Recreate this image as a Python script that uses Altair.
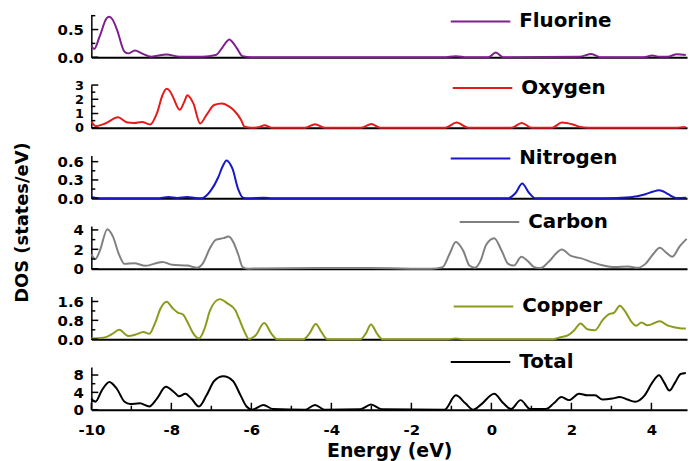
import altair as alt
import pandas as pd

FONT = "DejaVu Sans"

# ---------------- data ----------------
energy_major = [-10, -8, -6, -4, -2, 0, 2, 4]
energy_minor = [-9, -7, -5, -3, -1, 1, 3]
energy_range = [-10, 4.89]

fluorine_e = [-10, -9.93, -9.79, -9.62, -9.55, -9.47, -9.36, -9.17, -9.08, -8.91, -8.74, -8.5,
              -8.12, -7.79, -7.22, -6.89, -6.74, -6.62, -6.55, -6.48, -6.36, -6.22, -6.0,
              -1.2, -0.89, -0.6, -0.08, 0.11, 0.3, 2.2, 2.5, 2.73, 3.8, 4.02, 4.2, 4.4, 4.64, 4.86]
fluorine_v = [0.21, 0.15, 0.38, 0.70, 0.73, 0.68, 0.50, 0.10, 0.07, 0.12, 0.07, 0.01,
              0.05, 0.01, 0.01, 0.04, 0.16, 0.28, 0.32, 0.28, 0.16, 0.02, 0.0,
              0.0, 0.02, 0.0, 0.0, 0.085, 0.0, 0.01, 0.06, 0.0, 0.0, 0.03, 0.01, 0.01, 0.055, 0.04]

oxygen_e = [-10, -9.89, -9.65, -9.33, -9.12, -8.93, -8.74, -8.53, -8.36, -8.22, -8.12, -8.03,
            -7.96, -7.79, -7.68, -7.6, -7.45, -7.28, -7.12, -6.93, -6.74, -6.55, -6.41, -6.26,
            -6.17, -5.98, -5.8, -5.67, -5.5, -4.65, -4.41, -4.17, -3.25, -3.0, -2.78, -1.15,
            -0.87, -0.58, 0.5, 0.76, 1.0, 1.52, 1.76, 2.04, 2.23, 2.42, 4.6, 4.86]
oxygen_v = [0.46, 0.11, 0.30, 0.73, 0.39, 0.34, 0.41, 0.23, 1.03, 2.30, 2.74, 2.55,
            2.17, 1.26, 1.80, 2.28, 1.71, 0.30, 0.91, 1.60, 1.71, 1.48, 1.14, 0.57,
            0.07, 0.0, 0.05, 0.18, 0.0, 0.0, 0.25, 0.0, 0.0, 0.27, 0.0, 0.0,
            0.37, 0.0, 0.0, 0.34, 0.0, 0.0, 0.37, 0.23, 0.05, 0.0, 0.0, 0.05]

nitrogen_e = [-10, -9.8, -8.36, -8.07, -7.85, -7.61, -7.4, -7.24, -7.02, -6.83, -6.72, -6.62,
              -6.52, -6.47, -6.33, -6.21, -6.1, -5.69, -5.45, 0.42, 0.61, 0.77, 0.94, 1.09,
              2.8, 3.47, 3.85, 4.05, 4.18, 4.3, 4.42, 4.61, 4.87]
nitrogen_v = [0.02, 0.0, 0.0, 0.02, 0.005, 0.02, 0.005, 0.0, 0.12, 0.34, 0.52, 0.62,
              0.55, 0.48, 0.15, 0.01, 0.0, 0.01, 0.0, 0.0, 0.09, 0.24, 0.09, 0.0,
              0.0, 0.017, 0.066, 0.11, 0.13, 0.11, 0.066, 0.005, 0.01]

carbon_e = [-10, -9.9, -9.79, -9.6, -9.46, -9.31, -9.17, -8.93, -8.65, -8.22, -7.98, -7.6,
            -7.36, -7.22, -7.03, -6.89, -6.7, -6.57, -6.46, -6.33, -6.22, -6.08, -5.8, -4.36,
            -3.03, -1.5, -1.22, -1.05, -0.89, -0.7, -0.55, -0.41, -0.27, -0.13, 0.07, 0.26,
            0.42, 0.56, 0.75, 0.9, 1.07, 1.23, 1.42, 1.76, 1.99, 2.23, 2.52, 2.8,
            3.09, 3.42, 3.66, 3.85, 4.04, 4.21, 4.37, 4.52, 4.71, 4.88]
carbon_v = [1.49, 0.99, 1.82, 4.07, 3.31, 1.49, 0.50, 0.56, 0.30, 0.70, 0.40, 0.33,
            0.10, 0.50, 2.15, 2.98, 3.15, 3.31, 2.81, 1.49, 0.17, 0.0, 0.03, 0.07,
            0.07, 0.0, 0.17, 1.49, 2.75, 1.82, 0.33, 0.10, 0.83, 2.48, 3.15, 1.82,
            0.50, 0.33, 1.23, 0.83, 0.17, 0.07, 0.66, 1.99, 1.32, 1.09, 0.66, 0.33,
            0.17, 0.23, 0.10, 0.50, 1.49, 2.15, 1.66, 1.23, 2.32, 3.08]

copper_e = [-10, -9.7, -9.5, -9.3, -9.08, -8.89, -8.7, -8.55, -8.41, -8.27, -8.12, -7.96,
            -7.84, -7.71, -7.58, -7.46, -7.31, -7.17, -7.03, -6.79, -6.6, -6.4, -6.31, -6.17,
            -6.06, -5.89, -5.68, -5.5, -5.36, -4.7, -4.55, -4.39, -4.25, -4.1, -3.27, -3.14,
            -3.01, -2.86, -2.72, -1.1, -0.89, -0.7, 1.54, 1.73, 1.92, 2.07, 2.23, 2.4,
            2.59, 2.78, 2.93, 3.07, 3.21, 3.35, 3.5, 3.62, 3.75, 3.9, 4.21, 4.4, 4.59, 4.86]
copper_v = [0.03, 0.06, 0.20, 0.40, 0.14, 0.20, 0.31, 0.23, 0.67, 1.30, 1.59, 1.30,
            1.13, 1.05, 0.67, 0.27, 0.03, 0.45, 1.23, 1.70, 1.52, 1.23, 0.88, 0.31,
            0.01, 0.17, 0.69, 0.24, 0.0, 0.0, 0.24, 0.65, 0.31, 0.0, 0.0, 0.24,
            0.62, 0.24, 0.0, 0.0, 0.03, 0.0, 0.0, 0.08, 0.17, 0.38, 0.67, 0.42,
            0.38, 0.81, 1.05, 1.13, 1.42, 1.16, 0.74, 0.57, 0.71, 0.59, 0.76, 0.59, 0.50, 0.45]

total_e = [-10, -9.9, -9.74, -9.55, -9.36, -9.17, -9.03, -8.79, -8.55, -8.36, -8.14, -7.93,
           -7.81, -7.65, -7.5, -7.31, -7.12, -6.93, -6.7, -6.46, -6.27, -6.12, -5.98, -5.7,
           -5.46, -4.65, -4.41, -4.17, -3.27, -3.01, -2.74, -1.17, -0.89, -0.65, -0.46, -0.27,
           0.07, 0.3, 0.49, 0.73, 0.97, 1.36, 1.56, 1.75, 1.94, 2.19, 2.4, 2.59,
           2.78, 3.02, 3.21, 3.4, 3.59, 3.83, 4.02, 4.19, 4.32, 4.45, 4.59, 4.73, 4.86]
total_v = [2.57, 1.84, 4.41, 6.40, 4.78, 1.84, 1.32, 1.47, 0.74, 2.57, 5.29, 4.04,
           3.09, 3.68, 2.57, 0.74, 3.31, 6.62, 7.72, 6.62, 3.31, 0.74, 0.0, 1.10,
           0.15, 0.0, 1.10, 0.0, 0.10, 1.18, 0.10, 0.0, 3.31, 1.47, 0.0, 1.10,
           3.68, 1.47, 0.15, 2.21, 0.15, 0.15, 1.47, 2.94, 2.21, 3.68, 3.31, 3.31,
           2.35, 2.57, 2.94, 2.35, 1.84, 3.31, 6.25, 7.94, 6.25, 4.41, 6.25, 8.24, 8.46]

# y-axis ticks per panel
fluorine_major, fluorine_minor = [0.0, 0.5], [0.25, 0.75]
oxygen_major, oxygen_minor = [0, 1, 2, 3], [0.5, 1.5, 2.5]
nitrogen_major, nitrogen_minor = [0.0, 0.3, 0.6], [0.15, 0.45]
carbon_major, carbon_minor = [0, 2, 4], [1, 3]
copper_major, copper_minor = [0.0, 0.8, 1.6], [0.4, 1.2]
total_major, total_minor = [0, 4, 8], [2, 6]

W, H = 600, 43
LEGEND_LINE = "M-10,0H10"  # a 60px horizontal line with symbolSize 36


def panel(name, color, e, v, ymax, major, minor, fmt, lx, ly, bottom=False, ytitle=False, lsize=15):
    df = pd.DataFrame({"E": e, "dos": v, "name": [name] * len(e)})
    xscale = alt.Scale(domain=energy_range, nice=False, zero=False)
    yscale = alt.Scale(domain=[0, ymax], nice=False, zero=True)
    if bottom:
        xaxis = alt.Axis(values=energy_major, labelExpr="datum.value + ''", labelFont=FONT,
                         labelFontSize=15, labelFontWeight="bold", labelColor="black",
                         labelPadding=13, labelFlush=False, labelOverlap=False,
                         ticks=False, tickSize=0, domainColor="black", domainWidth=2,
                         grid=False, titleFont=FONT, titleFontSize=19,
                         titleFontWeight="bold", titleColor="black", titleY=32,
                         titleBaseline="top")
    else:
        xaxis = alt.Axis(labels=False, ticks=False, tickSize=0, domainColor="black",
                         domainWidth=2, grid=False)
    yaxis_kw = dict(values=major, format=fmt, labelFont=FONT, labelFontSize=lsize,
                    labelFontWeight="bold", labelColor="black", labelPadding=8,
                    labelOverlap=False, ticks=False, tickSize=0, domainColor="black",
                    domainWidth=1.5, grid=False)
    if ytitle:
        yaxis_kw.update(titleFont=FONT, titleFontSize=18,
                        titleFontWeight="bold", titleColor="black", titleX=-60, titleY=-4,
                        titleAngle=270, titleAlign="center", titleBaseline="bottom")
    yaxis = alt.Axis(**yaxis_kw)
    xtitle = "Energy (eV)" if bottom else None
    ytitle_txt = "DOS (states/eV)" if ytitle else None

    line = alt.Chart(df).mark_line(strokeWidth=2, interpolate="monotone").encode(
        x=alt.X("E:Q", scale=xscale, axis=xaxis, title=xtitle),
        y=alt.Y("dos:Q", scale=yscale, axis=yaxis, title=ytitle_txt),
        color=alt.Color("name:N", scale=alt.Scale(domain=[name], range=[color]),
                        legend=alt.Legend(orient="none", legendX=lx, legendY=ly, title=None,
                                          symbolType=LEGEND_LINE, symbolSize=36,
                                          symbolStrokeWidth=2, labelFont=FONT,
                                          labelFontSize=20, labelFontWeight="bold",
                                          labelColor="black", labelOffset=29, padding=0)),
    )
    ymaj = alt.Chart(pd.DataFrame({"t": major})).mark_rule(color="black", strokeWidth=1.5).encode(
        y=alt.Y("t:Q", scale=yscale, axis=yaxis, title=ytitle_txt), x=alt.value(0), x2=alt.value(7))
    ymin = alt.Chart(pd.DataFrame({"t": minor})).mark_rule(color="black", strokeWidth=1.5).encode(
        y=alt.Y("t:Q", scale=yscale, axis=yaxis, title=ytitle_txt), x=alt.value(0), x2=alt.value(4))
    layers = [line, ymaj, ymin]
    if bottom:
        xmaj = alt.Chart(pd.DataFrame({"t": energy_major})).mark_rule(color="black", strokeWidth=1.5).encode(
            x=alt.X("t:Q", scale=xscale, axis=xaxis, title=xtitle), y=alt.value(H), y2=alt.value(H - 7))
        xmin = alt.Chart(pd.DataFrame({"t": energy_minor})).mark_rule(color="black", strokeWidth=1.5).encode(
            x=alt.X("t:Q", scale=xscale, axis=xaxis, title=xtitle), y=alt.value(H), y2=alt.value(H - 4))
        layers += [xmaj, xmin]
    return alt.layer(*layers).properties(width=W, height=H)


panels = [
    panel("Fluorine", "#7e1f8e", fluorine_e, fluorine_v, 0.77, fluorine_major, fluorine_minor, ".1f", 382, -3),
    panel("Oxygen", "#e31b1b", oxygen_e, oxygen_v, 3.0, oxygen_major, oxygen_minor, "d", 384, -7, lsize=13),
    panel("Nitrogen", "#1717c8", nitrogen_e, nitrogen_v, 0.70, nitrogen_major, nitrogen_minor, ".1f", 382, -7),
    panel("Carbon", "#808080", carbon_e, carbon_v, 4.4, carbon_major, carbon_minor, "d", 391, -14, ytitle=True),
    panel("Copper", "#8c9a1c", copper_e, copper_v, 1.81, copper_major, copper_minor, ".1f", 385, 0),
    panel("Total", "#000000", total_e, total_v, 9.85, total_major, total_minor, "d", 382, -15, bottom=True),
]

chart = alt.vconcat(*panels, spacing=28, bounds="flush").resolve_scale(
    x="independent", y="independent", color="independent"
).properties(
    padding={"left": 13, "top": 10, "right": 0, "bottom": 0}, background="white"
).configure_view(strokeWidth=0)

chart.save("out.html", embed_options={"renderer": "svg", "actions": False})
